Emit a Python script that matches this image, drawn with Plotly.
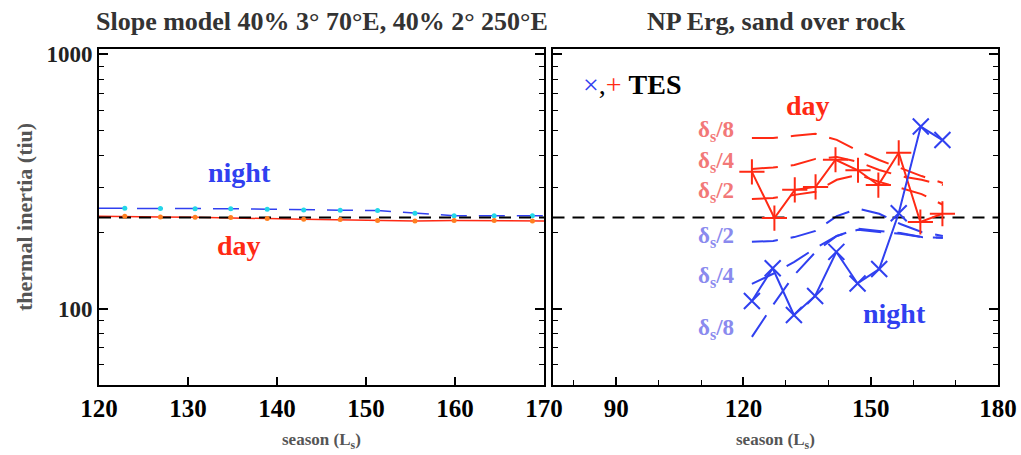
import math
import plotly.graph_objects as go

# ---------------- data ----------------
# Left panel: slope model (season Ls, thermal inertia tiu)
ls_left = [122.9, 126.9, 130.8, 134.8, 138.9, 143.0, 147.1, 151.3, 155.5, 159.9, 164.4, 168.7]
night_left = [248, 247.3, 247, 247, 245.9, 244.3, 243.7, 242.8, 237.1, 232, 232, 232]
day_left = [230.7, 229.3, 228.7, 227.9, 225.8, 224.6, 223.8, 221.8, 221.2, 221.8, 221.8, 221.2]
ref_ti = 228

# Right panel: TES observations
ls_tes_day = [122.0, 127.3, 132.1, 137.0, 141.7, 147.0, 151.8, 156.6, 161.7, 166.9]
day_tes = [345, 227, 293, 301, 385, 350, 306, 410, 219, 236]
ls_tes_night = [122.0, 126.9, 131.9, 136.9, 141.9, 146.9, 152.0, 156.6, 161.8, 166.9]
night_tes = [107, 144, 94.3, 112, 167, 125.5, 143, 237, 520, 460]

# Right panel: model curves for different skin depths
ls_model = [122, 127, 132, 137, 142, 147, 152, 157, 162, 167]
day_d8 = [469, 469, 478, 487, 461, 417, 384, 358, 332, 312]
day_d4 = [354, 359, 367, 388, 395, 378, 351, 332, 321, 306]
day_d2 = [270, 272, 280, 288, 321, 336, 315, 298, 282, 256]
night_d2 = [183, 184.5, 191, 202, 231, 247, 236, 215, 200, 193]
night_d4 = [125, 137, 152.5, 173, 193, 204, 200, 197, 191, 190]
night_d8 = [77.3, 103.3, 135.6, 167, 193, 206, 202, 198, 191, 190]

left_ticks = [120, 130, 140, 150, 160, 170]
right_ticks = [90, 120, 150, 180]
y_ticks = [100, 1000]
y_minor = [50, 60, 70, 80, 90, 200, 300, 400, 500, 600, 700, 800, 900]

# ---------------- styling ----------------
W, H = 1021, 455
BLUE = "#3040f0"
RED = "#ff2a14"
LBLUE = "#8a8aee"
LRED = "#f27878"
SERIF = "Liberation Serif"

fig = go.Figure()

# Left panel
fig.add_trace(go.Scatter(x=[120] + ls_left + [170], y=[night_left[0]] + night_left + [night_left[-1]],
                         mode="lines", line=dict(color=BLUE, width=1.5, dash="26px,12px"),
                         xaxis="x", yaxis="y", showlegend=False))
fig.add_trace(go.Scatter(x=ls_left, y=night_left, mode="markers",
                         marker=dict(color="#22d8e8", size=5), xaxis="x", yaxis="y", showlegend=False))
fig.add_trace(go.Scatter(x=[120] + ls_left + [170], y=[day_left[0]] + day_left + [day_left[-1]],
                         mode="lines", line=dict(color=RED, width=1.5),
                         xaxis="x", yaxis="y", showlegend=False))
fig.add_trace(go.Scatter(x=[120, 170], y=[ref_ti, ref_ti], mode="lines",
                         line=dict(color="black", width=2, dash="12px,8px"),
                         xaxis="x", yaxis="y", showlegend=False))
fig.add_trace(go.Scatter(x=ls_left, y=day_left, mode="markers",
                         marker=dict(color="#ff8020", size=5), xaxis="x", yaxis="y", showlegend=False))

# Right panel model curves
for vals, col in [(day_d8, RED), (day_d4, RED), (day_d2, RED),
                  (night_d2, BLUE), (night_d4, BLUE), (night_d8, BLUE)]:
    fig.add_trace(go.Scatter(x=ls_model, y=vals, mode="lines",
                             line=dict(color=col, width=2, dash="26px,13px"),
                             xaxis="x2", yaxis="y2", showlegend=False))

fig.add_trace(go.Scatter(x=[75, 180], y=[ref_ti, ref_ti], mode="lines",
                         line=dict(color="black", width=2, dash="12px,8px"),
                         xaxis="x2", yaxis="y2", showlegend=False))

# TES observations
fig.add_trace(go.Scatter(x=ls_tes_day, y=day_tes, mode="lines+markers",
                         line=dict(color=RED, width=2),
                         marker=dict(symbol="cross-thin", size=18, line=dict(color=RED, width=2)),
                         xaxis="x2", yaxis="y2", showlegend=False))
fig.add_trace(go.Scatter(x=ls_tes_night, y=night_tes, mode="lines+markers",
                         line=dict(color=BLUE, width=2),
                         marker=dict(symbol="x-thin", size=16, line=dict(color=BLUE, width=2)),
                         xaxis="x2", yaxis="y2", showlegend=False))

# ---------------- axes ----------------
y0, y1 = 385, 49
ydom = [1 - y0 / H, 1 - y1 / H]
xdom1 = [99 / W, 544 / W]
xdom2 = [552.5 / W, 998 / W]

xcommon = dict(showline=True, linecolor="black", linewidth=2, mirror=True, ticks="inside",
               ticklen=8, tickwidth=1.5, tickcolor="black", showgrid=False, zeroline=False,
               tickfont=dict(family=SERIF, size=25, color="black", weight="bold"))
ycommon = dict(type="log", range=[math.log10(50), math.log10(1050)], showline=True,
               linecolor="black", linewidth=2, mirror="ticks", ticks="inside", ticklen=9,
               tickwidth=1.5, tickcolor="black", showgrid=False, zeroline=False,
               tickmode="array", tickvals=y_ticks,
               minor=dict(tickmode="array", tickvals=y_minor, ticks="inside", ticklen=5,
                          tickwidth=1.2, tickcolor="black", showgrid=False),
               tickfont=dict(family=SERIF, size=23, color="#222", weight="bold"))

fig.update_layout(
    width=W, height=H, margin=dict(l=0, r=0, t=0, b=0, autoexpand=False),
    paper_bgcolor="white", plot_bgcolor="white",
    xaxis=dict(domain=xdom1, range=[120, 170], anchor="y", tickmode="array",
               tickvals=left_ticks, ticktext=[str(v) for v in left_ticks], **xcommon),
    xaxis2=dict(domain=xdom2, range=[75, 180], anchor="y2", tickmode="array",
                tickvals=right_ticks, ticktext=[str(v) for v in right_ticks],
                minor=dict(dtick=10, tick0=0, ticks="inside", ticklen=5, tickwidth=1.2,
                           tickcolor="black", showgrid=False),
                **xcommon),
    yaxis=dict(domain=ydom, anchor="x", showticklabels=True, ticktext=["100", "1000"], **ycommon),
    yaxis2=dict(domain=ydom, anchor="x2", showticklabels=False, **ycommon),
)

# ---------------- text ----------------
def ann(x, y, text, size, color, bold=True, angle=0):
    fig.add_annotation(x=x / W, y=1 - y / H, xref="paper", yref="paper", text=text,
                       showarrow=False, textangle=angle, xanchor="center", yanchor="middle",
                       font=dict(family=SERIF, size=size, color=color,
                                 weight="bold" if bold else "normal"))

ann(322, 21, "Slope model 40% 3° 70°E, 40% 2° 250°E", 26, "#333")
ann(776, 21, "NP Erg, sand over rock", 26, "#333")
ann(24, 217, "thermal inertia (tiu)", 22, "#555", angle=-90)
ann(321, 441, "season (L<sub>s</sub>)", 17, "#555")
ann(775, 441, "season (L<sub>s</sub>)", 17, "#555")

ann(239, 172, "night", 28, BLUE)
ann(239, 245, "day", 28, RED)
ann(808, 105, "day", 28, RED)
ann(894, 313, "night", 28, BLUE)

for yy, t in [(131, "δ<sub>s</sub>/8"), (162, "δ<sub>s</sub>/4"), (192, "δ<sub>s</sub>/2")]:
    ann(716, yy, t, 23, LRED)
for yy, t in [(237, "δ<sub>s</sub>/2"), (277, "δ<sub>s</sub>/4"), (329, "δ<sub>s</sub>/8")]:
    ann(716, yy, t, 23, LBLUE)

fig.add_annotation(x=632 / W, y=1 - 84 / H, xref="paper", yref="paper", showarrow=False,
                   xanchor="center", yanchor="middle",
                   text=(f"<span style='color:{BLUE}'>×</span><span style='color:black'>,</span>"
                         f"<span style='color:{RED}'>+</span> <b>TES</b>"),
                   font=dict(family=SERIF, size=28, color="black"))

fig.write_html("out.html", config={"displayModeBar": False},
               post_script="document.body.style.margin='0';document.body.style.padding='0';")
